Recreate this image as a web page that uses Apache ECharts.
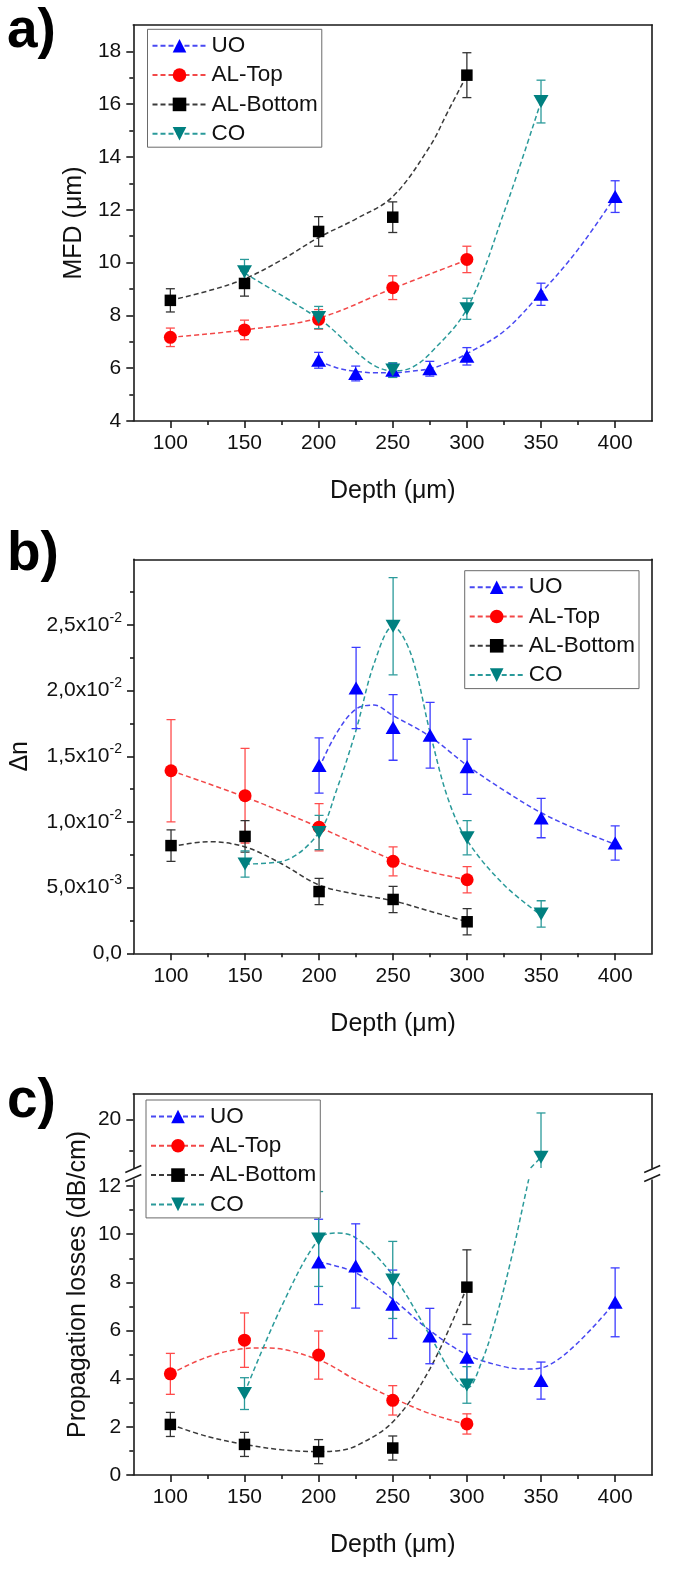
<!DOCTYPE html>
<html><head><meta charset="utf-8">
<script src="https://cdn.jsdelivr.net/npm/echarts@6/dist/echarts.min.js"></script>
<style>html,body{margin:0;padding:0;background:#fff}#c{width:685px;height:1582px}</style>
</head><body><div id="c"></div>
<script>
// ---------- categories / x values ----------
const seriesNames = ['UO', 'AL-Top', 'AL-Bottom', 'CO'];
const uoDepth = [200, 225, 250, 275, 300, 350, 400];
const alDepth = [100, 150, 200, 250, 300];
const coDepth = [150, 200, 250, 300, 350];

// ---------- tick labels ----------
const xTicks = [100, 150, 200, 250, 300, 350, 400];
const xMinorTicks = [125, 175, 225, 275, 325, 375];
const yTicksA = [4, 6, 8, 10, 12, 14, 16, 18];
const yMinorA = [5, 7, 9, 11, 13, 15, 17];
const yTicksB = [0, 0.005, 0.01, 0.015, 0.02, 0.025];
const yMinorB = [0.0025, 0.0075, 0.0125, 0.0175, 0.0225, 0.0275];
const yTicksC = [0, 2, 4, 6, 8, 10, 12];
const yMinorC = [1, 3, 5, 7, 9, 11];
const yTicksCUpper = [20];
const yMinorCUpper = [19];

// ---------- panel a: MFD (um) ----------
const mfdUO = [6.3, 5.8, 5.92, 5.98, 6.45, 8.8, 12.5];
const mfdUOErr = [0.3, 0.28, 0.26, 0.28, 0.33, 0.42, 0.6];
const mfdTop = [7.17, 7.45, 7.85, 9.05, 10.12];
const mfdTopErr = [0.35, 0.37, 0.37, 0.45, 0.5];
const mfdBottom = [8.57, 9.21, 11.18, 11.72, 17.1];
const mfdBottomErr = [0.44, 0.48, 0.56, 0.58, 0.85];
const mfdCO = [9.65, 7.92, 5.93, 8.25, 16.1];
const mfdCOErr = [0.47, 0.42, 0.28, 0.4, 0.81];
// dashed fit curves
const mfdFitUOx = [200, 212, 225, 237, 250, 262, 275, 287, 300, 325, 350, 375, 400];
const mfdFitUOy = [6.28, 6.02, 5.88, 5.83, 5.83, 5.88, 5.98, 6.2, 6.55, 7.4, 8.85, 10.5, 12.5];
const mfdFitTopx = [100, 150, 200, 250, 300];
const mfdFitTopy = [7.17, 7.45, 7.9, 9.02, 10.1];
const mfdFitBottomx = [100, 125, 150, 175, 200, 225, 250, 275, 287, 300];
const mfdFitBottomy = [8.57, 8.92, 9.38, 10.1, 10.95, 11.65, 12.5, 14.4, 15.7, 17.1];
const mfdFitCOx = [150, 200, 250, 262, 275, 300, 325, 350];
const mfdFitCOy = [9.6, 7.88, 5.9, 6.0, 6.55, 8.25, 11.9, 16.1];

// ---------- panel b: delta n ----------
const dnUO = [0.0143, 0.0202, 0.0172, 0.0166, 0.0142, 0.0103, 0.0084];
const dnUOErr = [0.0021, 0.0031, 0.0025, 0.0025, 0.0021, 0.0015, 0.0013];
const dnTop = [0.0139, 0.0120, 0.0096, 0.0070, 0.0056];
const dnTopErr = [0.0039, 0.0036, 0.0018, 0.0011, 0.0010];
const dnBottom = [0.0082, 0.0089, 0.0047, 0.0041, 0.0024];
const dnBottomErr = [0.0012, 0.0012, 0.0010, 0.0010, 0.0010];
const dnCO = [0.0068, 0.0092, 0.0249, 0.0088, 0.0030];
const dnCOErr = [0.0010, 0.0013, 0.0037, 0.0013, 0.0010];
const dnFitUOx = [200, 212, 225, 237, 250, 275, 300, 325, 350, 375, 400];
const dnFitUOy = [0.0141, 0.0168, 0.0186, 0.0189, 0.0181, 0.0165, 0.0143, 0.0124, 0.0107, 0.0094, 0.0083];
const dnFitTopx = [100, 150, 200, 250, 275, 300];
const dnFitTopy = [0.0139, 0.0119, 0.0096, 0.0071, 0.0062, 0.0056];
const dnFitBottomx = [100, 125, 150, 175, 200, 225, 250, 275, 300];
const dnFitBottomy = [0.0081, 0.0085, 0.0081, 0.0068, 0.0052, 0.0045, 0.0040, 0.0032, 0.0024];
const dnFitCOx = [150, 175, 200, 212, 225, 237, 250, 262, 275, 287, 300, 325, 350];
const dnFitCOy = [0.0068, 0.0070, 0.0092, 0.0125, 0.0170, 0.0220, 0.0249, 0.0228, 0.0168, 0.0118, 0.0086, 0.0052, 0.0029];

// ---------- panel c: propagation losses (dB/cm) ----------
const lossUO = [8.85, 8.68, 7.09, 5.77, 4.89, 3.92, 7.17];
const lossUOErr = [1.77, 1.75, 1.42, 1.15, 0.96, 0.77, 1.43];
const lossTop = [4.2, 5.6, 4.98, 3.1, 2.12];
const lossTopErr = [0.85, 1.13, 1.0, 0.61, 0.42];
const lossBottom = [2.1, 1.27, 0.97, 1.12, 7.8];
const lossBottomErr = [0.5, 0.5, 0.5, 0.5, 1.55];
const lossCO = [3.38, 9.8, 8.1, 3.74, 18.8];
const lossCOErr = [0.66, 1.97, 1.6, 0.76, 1.4];
const lossFitUOx = [200, 225, 250, 275, 300, 325, 340, 355, 375, 400];
const lossFitUOy = [8.85, 8.4, 7.3, 6.0, 5.0, 4.5, 4.4, 4.55, 5.5, 7.17];
const lossFitTopx = [100, 125, 150, 165, 200, 225, 250, 275, 300];
const lossFitTopy = [4.2, 4.9, 5.25, 5.28, 4.78, 3.95, 3.2, 2.55, 2.1];
const lossFitBottomx = [100, 125, 150, 175, 200, 212, 225, 250, 275, 300];
const lossFitBottomy = [2.1, 1.6, 1.27, 1.05, 0.97, 1.0, 1.2, 2.2, 4.4, 7.8];
const lossFitCOx = [150, 175, 200, 212, 225, 250, 275, 290, 300, 310, 320, 330, 340, 345];
const lossFitCOy = [3.4, 7.0, 9.8, 10.05, 9.85, 8.3, 5.8, 4.2, 3.6, 4.7, 6.6, 9.0, 11.8, 13.2];
const lossFitCOUpperx = [343, 350];
const lossFitCOUppery = [18.46, 18.8];

// ---------- styles ----------
const FONT = '"Liberation Sans", Arial, sans-serif';
const MARK = { 'UO': '#0000ff', 'AL-Top': '#ff0000', 'AL-Bottom': '#000000', 'CO': '#008080' };
const LINE = { 'UO': '#4848f2', 'AL-Top': '#f24848', 'AL-Bottom': '#3a3a3a', 'CO': '#2a9a9a' };
const ERRC = { 'UO': '#3c3cff', 'AL-Top': '#ff4c4c', 'AL-Bottom': '#333333', 'CO': '#2a9a9a' };
const DOWN = 'path://M0,0L12,0L6,11Z';
const SYM = { 'UO': 'triangle', 'AL-Top': 'circle', 'AL-Bottom': 'rect', 'CO': DOWN };
const SIZE = { 'UO': [15, 13], 'AL-Top': 13, 'AL-Bottom': 11.5, 'CO': [15, 13] };
const AX = { color: '#1a1a1a', width: 1.6 };
const W = 685, H = 1582, L = 133.3, R = 652.2;

const grids = [], xAxes = [], yAxes = [], series = [];

function supFormatter(v) {
  if (Math.abs(v) < 1e-12) return '{m|0,0}';
  const e = Math.floor(Math.log10(v) + 1e-9);
  const m = (v / Math.pow(10, e)).toFixed(1).replace('.', ',');
  return '{m|' + m + 'x10}{e|' + e + '}';
}

function addGrid(g) {
  const gi = grids.length;
  grids.push({ left: L, right: W - R, top: g.top, height: g.bottom - g.top });
  const xi = xAxes.length;
  xAxes.push({
    type: 'value', gridIndex: gi, position: 'bottom', min: 75, max: 425,
    axisLine: { show: !!g.bottomLine, onZero: false, lineStyle: AX },
    axisTick: { show: !!g.xLabels, customValues: xTicks, length: 7, lineStyle: AX },
    axisLabel: { show: !!g.xLabels, customValues: xTicks, margin: 12, color: '#111', fontSize: 21, fontFamily: FONT },
    splitLine: { show: false },
    name: g.xLabels ? 'Depth (\u03bcm)' : '', nameLocation: 'middle', nameGap: 58,
    nameTextStyle: { fontSize: 25, color: '#111', fontFamily: FONT }
  });
  if (g.xLabels) {
    xAxes.push({
      type: 'value', gridIndex: gi, position: 'bottom', min: 75, max: 425,
      axisLine: { show: false, onZero: false }, axisLabel: { show: false }, splitLine: { show: false },
      axisTick: { customValues: xMinorTicks, length: 4, lineStyle: AX }
    });
  }
  if (g.topLine) {
    xAxes.push({
      type: 'value', gridIndex: gi, position: 'top', min: 75, max: 425,
      axisLine: { show: true, onZero: false, lineStyle: AX }, axisTick: { show: false },
      axisLabel: { show: false }, splitLine: { show: false }
    });
  }
  const yi = yAxes.length;
  yAxes.push({
    type: 'value', gridIndex: gi, position: 'left', min: g.ymin, max: g.ymax,
    axisLine: { show: true, onZero: false, lineStyle: AX },
    axisTick: { customValues: g.yTicks, length: 7, lineStyle: AX },
    axisLabel: Object.assign({ customValues: g.yTicks, margin: 12, color: '#111', fontSize: 21, fontFamily: FONT }, g.labelExtra || {}),
    splitLine: { show: false },
    name: g.yName || '', nameLocation: 'middle', nameGap: g.nameGap || 41,
    nameTextStyle: { fontSize: 25, color: '#111', fontFamily: FONT }
  });
  yAxes.push({
    type: 'value', gridIndex: gi, position: 'left', min: g.ymin, max: g.ymax,
    axisLine: { show: false, onZero: false }, axisLabel: { show: false }, splitLine: { show: false },
    axisTick: { customValues: g.yMinor, length: 4, lineStyle: AX }
  });
  yAxes.push({
    type: 'value', gridIndex: gi, position: 'right', min: g.ymin, max: g.ymax,
    axisLine: { show: true, onZero: false, lineStyle: AX }, axisTick: { show: false },
    axisLabel: { show: false }, splitLine: { show: false }
  });
  return { gi, xi, yi };
}

function fitSeries(name, ax, xs, ys) {
  series.push({
    type: 'line', name, xAxisIndex: ax.xi, yAxisIndex: ax.yi,
    data: xs.map((x, i) => [x, ys[i]]), smooth: 0.35,
    symbol: SYM[name], symbolSize: 14, showSymbol: false,
    itemStyle: { color: MARK[name] },
    lineStyle: { color: LINE[name], width: 1.5, type: [5, 3] },
    z: 2, silent: true, clip: true, animation: false
  });
}
function errSeries(name, ax, pts) {
  const col = ERRC[name];
  series.push({
    type: 'custom', name, xAxisIndex: ax.xi, yAxisIndex: ax.yi, clip: true, z: 3, silent: true,
    data: pts, encode: { x: 0, y: [1, 2] },
    renderItem(params, api) {
      const lo = api.coord([api.value(0), api.value(1)]);
      const hi = api.coord([api.value(0), api.value(2)]);
      const w = 4.5, st = { stroke: col, lineWidth: 1.3 };
      return { type: 'group', children: [
        { type: 'line', shape: { x1: lo[0], y1: lo[1], x2: hi[0], y2: hi[1] }, style: st },
        { type: 'line', shape: { x1: lo[0] - w, y1: lo[1], x2: lo[0] + w, y2: lo[1] }, style: st },
        { type: 'line', shape: { x1: hi[0] - w, y1: hi[1], x2: hi[0] + w, y2: hi[1] }, style: st }
      ] };
    }
  });
}
function pointSeries(name, ax, pts) {
  series.push({
    type: 'scatter', name, xAxisIndex: ax.xi, yAxisIndex: ax.yi, data: pts,
    symbol: SYM[name], symbolSize: SIZE[name], itemStyle: { color: MARK[name], opacity: 1 },
    z: 4, silent: true, clip: true, animation: false
  });
}
function addMeasured(name, ax, xs, ys, es, keep) {
  const idx = xs.map((x, i) => i).filter(i => !keep || keep(ys[i]));
  errSeries(name, ax, idx.map(i => [xs[i], ys[i] - es[i], ys[i] + es[i]]));
  pointSeries(name, ax, idx.map(i => [xs[i], ys[i]]));
}

// ---------- panel a ----------
const A = addGrid({ top: 25, bottom: 421, ymin: 4, ymax: 19, yTicks: yTicksA, yMinor: yMinorA,
  yName: 'MFD (\u03bcm)', nameGap: 41, xLabels: true, bottomLine: true, topLine: true });
fitSeries('UO', A, mfdFitUOx, mfdFitUOy);
fitSeries('AL-Top', A, mfdFitTopx, mfdFitTopy);
fitSeries('AL-Bottom', A, mfdFitBottomx, mfdFitBottomy);
fitSeries('CO', A, mfdFitCOx, mfdFitCOy);
addMeasured('UO', A, uoDepth, mfdUO, mfdUOErr);
addMeasured('AL-Top', A, alDepth, mfdTop, mfdTopErr);
addMeasured('AL-Bottom', A, alDepth, mfdBottom, mfdBottomErr);
addMeasured('CO', A, coDepth, mfdCO, mfdCOErr);

// ---------- panel b ----------
const B = addGrid({ top: 559.3, bottom: 953.3, ymin: 0, ymax: 0.03, yTicks: yTicksB, yMinor: yMinorB,
  yName: '\u0394n', nameGap: 101, xLabels: true, bottomLine: true, topLine: true,
  labelExtra: { formatter: supFormatter, rich: {
    m: { fontSize: 21, fontFamily: FONT, color: '#111' },
    e: { fontSize: 14, fontFamily: FONT, color: '#111', padding: [0, 0, 14, 0] } } } });
fitSeries('UO', B, dnFitUOx, dnFitUOy);
fitSeries('AL-Top', B, dnFitTopx, dnFitTopy);
fitSeries('AL-Bottom', B, dnFitBottomx, dnFitBottomy);
fitSeries('CO', B, dnFitCOx, dnFitCOy);
addMeasured('UO', B, uoDepth, dnUO, dnUOErr);
addMeasured('AL-Top', B, alDepth, dnTop, dnTopErr);
addMeasured('AL-Bottom', B, alDepth, dnBottom, dnBottomErr);
addMeasured('CO', B, coDepth, dnCO, dnCOErr);

// ---------- panel c (broken axis: upper + lower grids) ----------
const C = { top: 1094, upperBottom: 1168, lowerTop: 1180, bottom: 1475 };
const lowerMax = 12.25, upperMin = 18.46, upperMax = 20.8;
const CU = addGrid({ top: C.top, bottom: C.upperBottom, ymin: upperMin, ymax: upperMax,
  yTicks: yTicksCUpper, yMinor: yMinorCUpper, xLabels: false, bottomLine: false, topLine: true });
const CL = addGrid({ top: C.lowerTop, bottom: C.bottom, ymin: 0, ymax: lowerMax,
  yTicks: yTicksC, yMinor: yMinorC, xLabels: true, bottomLine: true, topLine: false });
// full-height invisible axis carrying the panel c title
const giFull = grids.length;
grids.push({ left: L, right: W - R, top: C.top, height: C.bottom - C.top });
xAxes.push({ type: 'value', gridIndex: giFull, show: false, min: 75, max: 425 });
yAxes.push({ type: 'value', gridIndex: giFull, position: 'left', min: 0, max: 1,
  axisLine: { show: false, onZero: false }, axisTick: { show: false }, axisLabel: { show: false },
  splitLine: { show: false }, name: 'Propagation losses (dB/cm)', nameLocation: 'middle', nameGap: 43,
  nameTextStyle: { fontSize: 25, color: '#111', fontFamily: FONT } });

const isLow = v => v <= lowerMax, isHigh = v => v > lowerMax;
fitSeries('UO', CL, lossFitUOx, lossFitUOy);
fitSeries('AL-Top', CL, lossFitTopx, lossFitTopy);
fitSeries('AL-Bottom', CL, lossFitBottomx, lossFitBottomy);
fitSeries('CO', CL, lossFitCOx, lossFitCOy);
fitSeries('CO', CU, lossFitCOUpperx, lossFitCOUppery);
addMeasured('UO', CL, uoDepth, lossUO, lossUOErr, isLow);
addMeasured('AL-Top', CL, alDepth, lossTop, lossTopErr, isLow);
addMeasured('AL-Bottom', CL, alDepth, lossBottom, lossBottomErr, isLow);
addMeasured('CO', CL, coDepth, lossCO, lossCOErr, isLow);
addMeasured('CO', CU, coDepth, lossCO, lossCOErr, isHigh);

// ---------- legends ----------
function legendAt(pos) {
  return Object.assign({
    data: seriesNames, orient: 'vertical', itemWidth: 54, itemHeight: 17, itemGap: 6.3,
    padding: [5, 4, 2, 4], borderColor: '#6a6a6a', borderWidth: 1, backgroundColor: '#fff',
    selectedMode: false, z: 10,
    textStyle: { fontSize: 22.5, fontFamily: FONT, color: '#111', lineHeight: 22 }
  }, pos);
}

// ---------- decorations: panel letters, break marks ----------
const LETTER = 'bold 55px ' + FONT;
const graphics = [
  { type: 'text', x: 7, y: 4, z: 20, style: { text: 'a)', font: LETTER, fill: '#000', textVerticalAlign: 'top' } },
  { type: 'text', x: 7, y: 527, z: 20, style: { text: 'b)', font: LETTER, fill: '#000', textVerticalAlign: 'top' } },
  { type: 'text', x: 7, y: 1074, z: 20, style: { text: 'c)', font: LETTER, fill: '#000', textVerticalAlign: 'top' } }
];
[L, R].forEach(x => {
  [C.upperBottom + 1, C.lowerTop - 2].forEach(y => {
    graphics.push({ type: 'line', z: 20, shape: { x1: x - 8, y1: y + 3.5, x2: x + 8, y2: y - 3.5 },
      style: { stroke: '#1a1a1a', lineWidth: 1.5 } });
  });
});

const chart = echarts.init(document.getElementById('c'), null, { renderer: 'canvas', width: W, height: H });
chart.setOption({
  backgroundColor: '#fff',
  animation: false,
  grid: grids,
  xAxis: xAxes,
  yAxis: yAxes,
  legend: [
    legendAt({ left: 147.5, top: 29.3 }),
    legendAt({ right: 46, top: 570.7 }),
    legendAt({ left: 146, top: 1100 })
  ],
  series: series,
  graphic: graphics
});
</script></body></html>
